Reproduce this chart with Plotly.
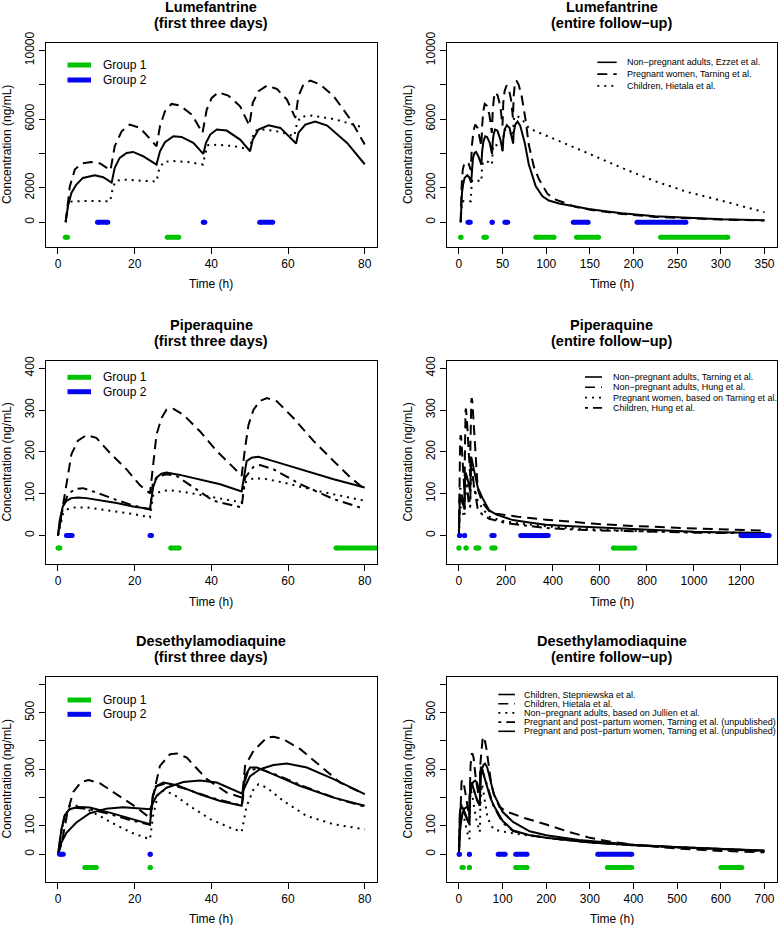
import plotly.graph_objects as go

W, H = 778, 925

# ---------------- Lumefantrine (ng/mL) ----------------
LUM_ADULT_T = [2, 2.6, 3.5, 4.8, 6.5, 9.6, 11.8, 14, 14.8, 16.1, 17.9, 19.6, 22.2, 25.7, 26.6, 27.9, 30.1, 32.2, 35.3,
               37.9, 38.6, 39.7, 41.4, 44, 47.5, 50.1, 50.8, 52.3, 54.9, 58, 62.1, 62.7, 64.5, 67.1, 70.2, 75.4, 80,
               88, 95.7, 103, 114.7, 129.8, 148.8, 167.8, 186.8, 224.8, 262.7, 300.7, 350]
LUM_ADULT_C = [0, 930, 1705, 2190, 2578, 2733, 2616, 2300, 3159, 3740, 4031, 4089, 3837, 3353, 4128, 4651, 5000, 4961,
               4612, 3973, 4612, 5097, 5388, 5330, 4806, 4128, 4806, 5388, 5640, 5485, 4574, 5194, 5678, 5853, 5620,
               4612, 3372, 2093, 1511, 1260, 1085, 930, 775, 640, 523, 349, 252, 174, 116]

LUM_PREG_T = [2, 2.6, 3.1, 4.4, 6.1, 8.7, 11, 13.7, 14.8, 16.6, 18.7, 21.4, 25.7, 26.6, 27.9, 29.6, 31.8, 34.9, 37.7,
              38.8, 40.1, 41.8, 44.4, 47.5, 49.9, 50.8, 52.3, 54.5, 57.1, 59.7, 61.9, 62.7, 64, 65.8, 68.4, 71.9,
              76.3, 80, 86, 91.9, 101.4, 110.9, 118.5, 133.6, 148.8, 186.8, 224.8, 262.7, 300.7, 350]
LUM_PREG_C = [0, 1300, 2093, 3062, 3411, 3508, 3420, 3023, 4419, 5290, 5678, 5485, 4419, 5581, 6453, 6880, 6783, 6260,
              5194, 6550, 7229, 7558, 7364, 6744, 5620, 6938, 7616, 7946, 7752, 7132, 6066, 7326, 8004, 8237, 8004,
              7326, 5969, 4515, 3200, 2480, 1647, 1318, 1163, 891, 736, 485, 310, 213, 155, 97]

LUM_CHILD_T = [2, 2.6, 3.5, 6, 10, 13.6, 14.2, 15, 17, 20, 25.7, 26.3, 27.5, 30, 34, 37.8, 38.4, 39.2, 42, 46, 50,
               50.6, 51.5, 54, 58, 61.6, 62.3, 63.2, 66, 72, 80, 88, 110.9, 129.8, 148.8, 186.8, 224.8, 262.7,
               300.7, 350]
LUM_CHILD_C = [0, 900, 1200, 1230, 1230, 1220, 1900, 2400, 2480, 2450, 2364, 3000, 3508, 3560, 3500, 3353, 4000, 4496,
               4500, 4420, 4225, 4900, 5330, 5390, 5250, 5000, 5700, 6124, 6200, 6000, 5485, 5290, 4806, 4380, 3992,
               3159, 2384, 1744, 1260, 581]

LUM_G1_START = [1.9, 28.5, 88, 134.6, 231]
LUM_G1_END = [2.5, 31.5, 109, 160, 308]
LUM_G2_START = [10.3, 37.9, 52.6, 131, 204]
LUM_G2_END = [13, 38.3, 56, 148, 260]
LUM_G1_LEVEL = -870
LUM_LEGEND = ["Non\u2212pregnant adults, Ezzet et al.", "Pregnant women, Tarning et al.", "Children, Hietala et al."]

# ---------------- Piperaquine (ng/mL) ----------------
PIP_TAR_T = [0, 0.44, 1.3, 2.2, 3.5, 5.2, 7.4, 10.9, 15.3, 19.6, 24, 24.8, 25.7, 27, 28.3, 31.8, 37, 42.3, 47.9, 48.4,
             49.2, 50.5, 52.3, 56.2, 63.2, 71.9, 80, 100, 129, 160, 229, 300, 370, 480, 583, 700, 796, 900, 1000,
             1100, 1200, 1300]
PIP_TAR_C = [0, 35.6, 71, 83, 89.5, 91, 89.5, 84.8, 77.6, 69.7, 63.4, 114.9, 138.6, 148, 150.5, 145, 134.7, 122.8,
             105.3, 130.7, 178, 186, 188.5, 178, 158.4, 134.7, 114.9, 90, 60, 50, 37, 31, 26, 22, 19.5, 16, 13.5,
             11, 9, 8, 7, 6]

PIP_HUNG_T = [0, 0.9, 2.2, 3.5, 5.2, 7.4, 10, 13.5, 17.9, 21.4, 24, 24.8, 25.7, 27, 28.3, 30.1, 32.7, 37, 41.4, 45.8,
              47.9, 48.8, 49.7, 51, 52.7, 54.5, 57.1, 61.4, 66.7, 71.9, 76.3, 80, 100, 130, 158, 250, 370, 480, 583,
              700, 800, 955, 1100, 1200, 1300]
PIP_HUNG_C = [0, 51.5, 126.7, 194, 227, 240, 233.7, 198, 158, 120, 100.6, 170, 241.6, 281, 301, 303, 289, 249.5, 202,
              162.4, 142.6, 210, 265, 301, 322, 328.7, 320.8, 281, 225.7, 178, 138.6, 110.9, 78, 58, 52, 45, 38, 32,
              28, 24, 21, 18, 15, 13.5, 12]

PIP_PREG_T = [0, 1.3, 2.6, 4.4, 7.4, 13.5, 19.6, 24, 24.8, 26.6, 29.2, 33.6, 40.5, 47.9, 48.8, 51, 53.6, 58.8, 67.5,
              80, 100, 129, 200, 300, 370, 500, 600, 796, 1000, 1300]
PIP_PREG_C = [0, 51.5, 63.4, 67.3, 67.3, 59.4, 51.5, 43.6, 95, 105.3, 108.5, 103, 91, 79.2, 126.7, 137, 136.2, 126.7,
              107, 83.2, 65, 45, 33, 26, 22, 17, 14, 10, 8, 6]

PIP_CHILD_T = [0, 1.3, 2.6, 4.4, 6.5, 10, 15.3, 19.6, 24, 24.8, 26.6, 28.3, 30.9, 35.3, 40.5, 47.9, 48.8, 51, 52.7,
               56.2, 63.2, 71.9, 80, 100, 129, 200, 300, 370, 500, 600, 796, 1000, 1300]
PIP_CHILD_C = [0, 67.3, 99, 110.9, 113.3, 103, 85, 72, 62, 130.7, 142.6, 146.5, 142.6, 114.9, 83.2, 67.3, 138.6, 164,
               168.7, 158.4, 122.8, 87.1, 63.4, 50, 40, 30, 22, 18, 14, 12, 10, 7, 5]

PIP_G1_START = [0, 29.4, 72.5, 140, 657]
PIP_G1_END = [0.5, 31.6, 85, 154, 748]
PIP_G2_START = [2.2, 24, 140, 263, 1200]
PIP_G2_END = [3.7, 24.4, 150, 380, 1320]
PIP_G1_LEVEL = -30
PIP_LEGEND = ["Non\u2212pregnant adults, Tarning et al.", "Non\u2212pregnant adults, Hung et al.",
              "Pregnant women, based on Tarning et al.", "Children, Hung et al."]

# ---------------- Desethylamodiaquine (ng/mL) ----------------
DEA_STEP_T = [0, 0.9, 1.7, 3, 5.2, 8.3, 13.5, 19.6, 24, 24.7, 25.7, 27.5, 31, 37, 42.3, 47.9, 48.8, 50.1, 51.9, 56.2,
              63.2, 71.9, 80, 100, 124, 160, 200, 300, 400, 500, 600, 700]
DEA_STEP_C = [0, 88, 135, 159, 167, 165, 147, 124, 106, 206, 241, 253, 244, 212, 188, 171, 276, 306, 306, 282, 241,
              200, 171, 118, 84, 68, 58, 42, 32, 25, 18, 12]

DEA_HIET_T = [0, 1, 2.5, 4, 6, 8, 11, 15, 20, 24, 24.8, 26.6, 29.2, 31, 33.6, 38.8, 44, 48, 48.8, 51, 54.5, 56.2,
              58.8, 63.2, 68.4, 73.6, 80, 93, 110, 150, 200, 250, 300, 350, 400, 450, 500, 600, 700]
DEA_HIET_C = [0, 40, 150, 220, 255, 262, 250, 215, 170, 128, 206, 312, 353, 356, 341, 265, 218, 200, 312, 365, 412,
              415, 406, 371, 312, 253, 212, 167, 150, 128, 105, 80, 58, 44, 34, 26, 20, 12, 7]

DEA_JUL_T = [0, 1.5, 3, 5.7, 10.9, 15.3, 19.6, 24, 24.8, 26.1, 27.5, 30.1, 34.4, 39.7, 44.9, 47.9, 49.2, 51, 52.3,
             54.5, 58.8, 64.9, 71.9, 80, 100, 120, 160, 200, 300, 400, 500, 600, 700]
DEA_JUL_C = [0, 120, 170, 172, 135, 102, 74, 53, 135, 212, 224, 212, 170, 124, 94, 79, 170, 229, 247, 235, 188, 135,
             106, 88, 80, 75, 66, 58, 42, 32, 24, 17, 11]

DEA_PREG1_T = [0, 1, 2, 4, 8, 14, 19, 24, 24.8, 25.5, 28, 33, 40, 48, 48.8, 49.5, 52, 57, 65, 73, 80, 100, 124, 160,
               200, 300, 400, 500, 600, 700]
DEA_PREG1_C = [0, 90, 150, 165, 160, 140, 120, 104, 200, 240, 250, 232, 200, 172, 260, 290, 305, 280, 235, 195, 168,
               112, 82, 68, 58, 42, 32, 25, 18, 12]

DEA_PREG2_T = [0, 0.9, 2.2, 4.8, 8.3, 12.6, 17, 21.4, 24, 25.7, 28.3, 32.7, 37, 41.4, 47.9, 50.1, 52.7, 56.2, 59.7,
               64.9, 71.9, 80, 100, 124, 162, 200, 275, 400, 500, 600, 700]
DEA_PREG2_C = [0, 41, 76, 112, 145, 161, 166, 162, 159, 206, 235, 255, 260, 253, 215, 276, 300, 315, 320, 306, 265,
               212, 150, 114, 81, 67, 50, 34, 25, 18, 13]

DEA_G1_START = [7, 24, 130, 340, 600]
DEA_G1_END = [10, 24.1, 156, 396, 648]
DEA_G2_START = [0.4, 24, 90, 130, 318]
DEA_G2_END = [1.4, 24.1, 106, 156, 396]
DEA_G1_LEVEL = -47
DEA_LEGEND = ["Children, Stepniewska et al.", "Children, Hietala et al.",
              "Non\u2212pregnant adults, based on Jullien et al.",
              "Pregnant and post\u2212partum women, Tarning et al. (unpublished)",
              "Pregnant and post\u2212partum women, Tarning et al. (unpublished)"]

GROUP_LABELS = ["Group 1", "Group 2"]

# ---------------- styling ----------------
FONT = "Liberation Sans, Arial, Helvetica, sans-serif"
GREEN = "#00C400"
BLUE = "#0505EE"
SOLID = "solid"
DASHED = "10px,6px"
DOTTED = "2px,5px"
DOTDASH = "3px,5px,10px,5px"
LW = 2
BAR_W = 5


def px(x):
    return x / W


def py(y):
    return 1 - y / H


fig = go.Figure()


def axnames(n):
    return ("x" if n == 1 else f"x{n}"), ("y" if n == 1 else f"y{n}")


def curve(n, t, c, dash, tmax=None):
    if tmax is not None:
        keep = [i for i, v in enumerate(t) if v <= tmax]
        t = [t[i] for i in keep]
        c = [c[i] for i in keep]
    xa, ya = axnames(n)
    fig.add_trace(go.Scatter(x=t, y=c, mode="lines", xaxis=xa, yaxis=ya,
                             line=dict(color="black", width=LW, dash=dash),
                             showlegend=False, hoverinfo="skip"))


def bars(n, starts, ends, level, color):
    xs, ys = [], []
    for s, e in zip(starts, ends):
        xs += [s, e, None]
        ys += [level, level, None]
    xa, ya = axnames(n)
    fig.add_trace(go.Scatter(x=xs, y=ys, mode="lines+markers", xaxis=xa, yaxis=ya,
                             line=dict(color=color, width=BAR_W),
                             marker=dict(color=color, size=BAR_W, line=dict(width=0)),
                             showlegend=False, hoverinfo="skip"))


for n, tmax in [(1, 80), (2, None)]:
    curve(n, LUM_ADULT_T, LUM_ADULT_C, SOLID, tmax)
    curve(n, LUM_PREG_T, LUM_PREG_C, DASHED, tmax)
    curve(n, LUM_CHILD_T, LUM_CHILD_C, DOTTED, tmax)
    bars(n, LUM_G1_START, LUM_G1_END, LUM_G1_LEVEL, GREEN)
    bars(n, LUM_G2_START, LUM_G2_END, 0, BLUE)

for n, tmax in [(3, 80), (4, None)]:
    curve(n, PIP_TAR_T, PIP_TAR_C, SOLID, tmax)
    curve(n, PIP_HUNG_T, PIP_HUNG_C, DASHED, tmax)
    curve(n, PIP_PREG_T, PIP_PREG_C, DOTTED, tmax)
    curve(n, PIP_CHILD_T, PIP_CHILD_C, DOTDASH, tmax)
    bars(n, PIP_G1_START, PIP_G1_END, PIP_G1_LEVEL, GREEN)
    bars(n, PIP_G2_START, PIP_G2_END, 0, BLUE)

for n, tmax in [(5, 80), (6, None)]:
    curve(n, DEA_STEP_T, DEA_STEP_C, SOLID, tmax)
    curve(n, DEA_HIET_T, DEA_HIET_C, DASHED, tmax)
    curve(n, DEA_JUL_T, DEA_JUL_C, DOTTED, tmax)
    curve(n, DEA_PREG1_T, DEA_PREG1_C, DOTDASH, tmax)
    curve(n, DEA_PREG2_T, DEA_PREG2_C, SOLID, tmax)
    bars(n, DEA_G1_START, DEA_G1_END, DEA_G1_LEVEL, GREEN)
    bars(n, DEA_G2_START, DEA_G2_END, 0, BLUE)

# ---------------- axes ----------------
LEFT = (45.7, 377.0)
RIGHT = (446.7, 776.7)
ROWS = [(42.7, 247.0), (360.7, 564.0), (676.7, 881.7)]

tickfont = dict(family=FONT, size=12, color="black")
common = dict(showline=True, linecolor="black", linewidth=1, mirror=True, ticks="outside", ticklen=6,
              tickwidth=1, tickcolor="black", showgrid=False, zeroline=False, tickfont=tickfont,
              fixedrange=True, automargin=False)

XR = {1: [-3.2, 83.2], 2: [-14, 364], 3: [-3.2, 83.2], 4: [-52, 1352], 5: [-3.2, 83.2], 6: [-28, 728]}
XT = {1: [0, 20, 40, 60, 80], 2: list(range(0, 351, 50)), 3: [0, 20, 40, 60, 80],
      4: list(range(0, 1201, 200)), 5: [0, 20, 40, 60, 80], 6: list(range(0, 701, 100))}
YR = {1: [-1440, 10440], 3: [-68, 418], 5: [-96.8, 626.8]}
YT = {1: [0, 2000, 4000, 6000, 8000, 10000], 3: [0, 100, 200, 300, 400], 5: [0, 100, 200, 300, 400, 500, 600]}
YL = {1: ["0", "2000", "", "6000", "", "10000"], 3: ["0", "100", "200", "300", "400"],
      5: ["0", "100", "", "300", "", "500", ""]}

layout = {}
for n in range(1, 7):
    row = (n - 1) // 2
    col = (n - 1) % 2
    xl, xr = LEFT if col == 0 else RIGHT
    yt, yb = ROWS[row]
    ykey = 1 + 2 * row
    xa, ya = axnames(n)
    xk = "xaxis" if n == 1 else f"xaxis{n}"
    yk = "yaxis" if n == 1 else f"yaxis{n}"
    layout[xk] = dict(common, domain=[px(xl), px(xr)], range=XR[n], tickvals=XT[n],
                      ticktext=[str(v) for v in XT[n]], anchor=ya)
    layout[yk] = dict(common, domain=[py(yb), py(yt)], range=YR[ykey], tickvals=YT[ykey],
                      ticktext=YL[ykey], tickangle=-90, anchor=xa)

# ---------------- annotations & legend shapes ----------------
ann = []
shapes = []
TITLES = [("Lumefantrine", "(first three days)"), ("Lumefantrine", "(entire follow\u2212up)"),
          ("Piperaquine", "(first three days)"), ("Piperaquine", "(entire follow\u2212up)"),
          ("Desethylamodiaquine", "(first three days)"), ("Desethylamodiaquine", "(entire follow\u2212up)")]
for n in range(1, 7):
    row = (n - 1) // 2
    col = (n - 1) % 2
    xl, xr = LEFT if col == 0 else RIGHT
    yt, yb = ROWS[row]
    cx = (xl + xr) / 2
    l1, l2 = TITLES[n - 1]
    ann.append(dict(x=px(cx), y=py(yt - 36.0), xref="paper", yref="paper", text=f"<b>{l1}</b>",
                    showarrow=False, font=dict(family=FONT, size=14.5, color="black"),
                    xanchor="center", yanchor="middle"))
    ann.append(dict(x=px(cx), y=py(yt - 19.5), xref="paper", yref="paper", text=f"<b>{l2}</b>",
                    showarrow=False, font=dict(family=FONT, size=14.5, color="black"),
                    xanchor="center", yanchor="middle"))
    ann.append(dict(x=px(cx), y=py(yb + 37.5), xref="paper", yref="paper", text="Time (h)",
                    showarrow=False, font=dict(family=FONT, size=12, color="black"),
                    xanchor="center", yanchor="middle"))
    ann.append(dict(x=px(xl - 38.5), y=py((yt + yb) / 2), xref="paper", yref="paper",
                    text="Concentration (ng/mL)", textangle=-90,
                    showarrow=False, font=dict(family=FONT, size=12, color="black"),
                    xanchor="center", yanchor="middle"))

GROUP_ROWS = [(65, 80), (377.3, 391.7), (700, 714.3)]
for r1, r2 in GROUP_ROWS:
    for yy, col, lab in [(r1, GREEN, GROUP_LABELS[0]), (r2, BLUE, GROUP_LABELS[1])]:
        shapes.append(dict(type="line", xref="paper", yref="paper", x0=px(67.5), x1=px(91),
                           y0=py(yy), y1=py(yy), line=dict(color=col, width=BAR_W)))
        ann.append(dict(x=px(101), y=py(yy), xref="paper", yref="paper", text=lab, showarrow=False,
                        font=dict(family=FONT, size=12, color="black"), xanchor="left", yanchor="middle"))


def right_legend(labels, dashes, x0, x1, xt, y0, dy):
    for i, (lab, d) in enumerate(zip(labels, dashes)):
        yy = y0 + i * dy
        shapes.append(dict(type="line", xref="paper", yref="paper", x0=px(x0), x1=px(x1),
                           y0=py(yy), y1=py(yy), line=dict(color="black", width=1.6, dash=d)))
        ann.append(dict(x=px(xt), y=py(yy), xref="paper", yref="paper", text=lab, showarrow=False,
                        font=dict(family=FONT, size=9, color="black"), xanchor="left", yanchor="middle"))


right_legend(LUM_LEGEND, [SOLID, DASHED, DOTTED], 597.3, 616.7, 624.5, 62.3, 11.8)
right_legend(PIP_LEGEND, [SOLID, DASHED, DOTTED, DOTDASH], 585, 602, 610.5, 377, 10.3)
right_legend(DEA_LEGEND, [SOLID, DASHED, DOTTED, DOTDASH, SOLID], 498.3, 515, 521.5, 694.5, 9.2)

layout.update(dict(width=W, height=H, margin=dict(l=0, r=0, t=0, b=0, pad=0, autoexpand=False),
                   paper_bgcolor="white", plot_bgcolor="white", annotations=ann, shapes=shapes,
                   showlegend=False, font=dict(family=FONT, color="black")))
fig.update_layout(**layout)
fig.write_html("out.html", config={"displayModeBar": False},
               post_script="document.body.style.margin='0';document.body.style.padding='0';"
                           "document.body.style.overflow='hidden';window.scrollTo(0,0);")
